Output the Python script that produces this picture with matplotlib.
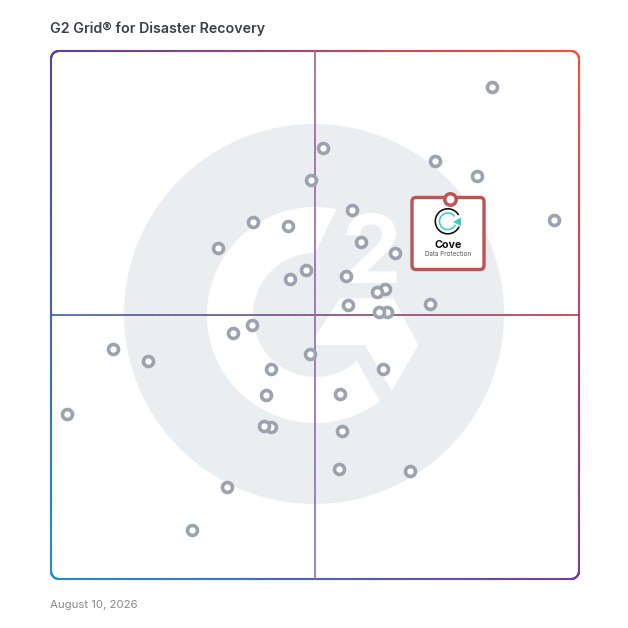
import numpy as np
import matplotlib
matplotlib.use("Agg")
import matplotlib.pyplot as plt
from matplotlib.collections import LineCollection
from matplotlib.patches import Circle, Polygon, FancyBboxPatch, PathPatch
from matplotlib.textpath import TextPath
from matplotlib.font_manager import FontProperties
from matplotlib.transforms import Affine2D

TITLE = "G2 Grid® for Disaster Recovery"
DATE = "August 10, 2026"
FEATURED_NAME = "Cove"
FEATURED_SUB = "Data Protection"

# Positions on the grid, 0-100 on both axes
market_presence = [83.5, 51.6, 72.8, 80.7, 49.2, 95.3, 57.0, 38.2, 44.8, 31.6,
                   58.7, 65.1, 48.3, 45.3, 55.8, 63.2, 61.7, 56.2, 71.8, 63.6,
                   62.2, 38.1, 34.5, 49.1, 11.7, 18.3, 41.7, 62.8, 40.7, 54.7,
                   3.0, 41.7, 40.3, 55.2, 54.5, 68.0, 33.3, 26.7]
satisfaction = [93.2, 81.6, 79.2, 76.3, 75.6, 67.9, 69.8, 67.7, 66.8, 62.7,
                63.9, 61.8, 58.6, 56.8, 57.3, 54.9, 54.3, 51.8, 52.1, 50.6,
                50.6, 48.1, 46.5, 42.6, 43.6, 41.3, 39.8, 39.8, 34.8, 35.0,
                31.2, 28.7, 28.9, 28.0, 20.8, 20.5, 17.4, 9.3]
featured_x = 75.6
featured_y = 71.9

W = 628
fig = plt.figure(figsize=(6.28, 6.28), dpi=100, facecolor="white")

bg = fig.add_axes([0, 0, 1, 1], zorder=0)
bg.set_xlim(0, W); bg.set_ylim(W, 0); bg.axis("off")

ax = fig.add_axes([51/W, 1-579/W, 528/W, 528/W], zorder=2)
ax.set_xlim(0, 100); ax.set_ylim(0, 100); ax.axis("off"); ax.patch.set_alpha(0)

top = fig.add_axes([0, 0, 1, 1], zorder=3)
top.set_xlim(0, W); top.set_ylim(W, 0); top.axis("off"); top.patch.set_alpha(0)

ax2 = fig.add_axes([51/W, 1-579/W, 528/W, 528/W], zorder=4)
ax2.set_xlim(0, 100); ax2.set_ylim(0, 100); ax2.axis("off"); ax2.patch.set_alpha(0)

# watermark
GREY = "#ebeef1"
bg.add_patch(Circle((314, 314), 190, fc=GREY, ec="none", zorder=1))
cx, cy = 315, 315
t1 = np.radians(np.linspace(53.1, 281.4, 200))
t2 = np.radians(np.linspace(270, 47.6, 200))
ring = np.r_[np.c_[cx+108*np.cos(t1), cy+108*np.sin(t1)],
             np.c_[cx+62*np.cos(t2), cy+62*np.sin(t2)]]
bg.add_patch(Polygon(ring, closed=True, fc="white", ec="none", zorder=2))
chev = [(340, 298.3), (393.3, 298.3), (418.3, 345), (391.7, 390.7), (365, 345),
        (315, 345), (315, 336.7)]
bg.add_patch(Polygon(chev, closed=True, fc="white", ec="none", zorder=2))
tp = TextPath((0, 0), "2", size=100, prop=FontProperties(family="Inter", weight="bold"))
b = tp.get_extents()
tr = (Affine2D().translate(-b.x0, -b.y0).scale(50/b.width, -70/b.height)
      .translate(346.7, 283))
bg.add_patch(PathPatch(tp, fc="white", ec="none", zorder=2, transform=tr + bg.transData))

# gradient frame and cross
rgb = lambda c: np.array(matplotlib.colors.to_rgb(c))
TL, TR, BL, BR = [rgb(c) for c in ("#5a3fa8", "#ff4f2e", "#1e8fd0", "#7d3a98")]
L, R, T, B = 51, 579, 51, 579
def grad(p):
    u = np.clip((p[:, 0]-L)/(R-L), 0, 1)[:, None]
    v = np.clip((p[:, 1]-T)/(B-T), 0, 1)[:, None]
    return (1-u)*(1-v)*TL + u*(1-v)*TR + (1-u)*v*BL + u*v*BR
def stroke(a, lw, colors=None):
    seg = np.stack([a[:-1], a[1:]], axis=1)
    mid = seg.mean(axis=1)
    c = grad(mid) if colors is None else colors
    bg.add_collection(LineCollection(seg, colors=c, linewidths=lw*0.72,
                                     capstyle="round", zorder=3))
r = 8
def arc(c, a0, a1):
    t = np.radians(np.linspace(a0, a1, 24))
    return np.c_[c[0]+r*np.cos(t), c[1]+r*np.sin(t)]
def edge(p, q, n=200):
    return np.c_[np.linspace(p[0], q[0], n), np.linspace(p[1], q[1], n)]
frame = np.r_[edge((L+r, T), (R-r, T)), arc((R-r, T+r), -90, 0),
              edge((R, T+r), (R, B-r)), arc((R-r, B-r), 0, 90),
              edge((R-r, B), (L+r, B)), arc((L+r, B-r), 90, 180),
              edge((L, B-r), (L, T+r)), arc((L+r, T+r), 180, 270)]
stroke(frame, 2.1)
MID = 315
f = np.linspace(0, 1, 299)[:, None]
stroke(edge((L, MID), (R, MID), 300), 1.5, (1-f)*rgb("#3d62b0") + f*rgb("#bd3a50"))
stroke(edge((MID, T), (MID, B), 300), 1.5, (1-f)*rgb("#a5609f") + f*rgb("#8872bf"))

# competitors
ax.plot(market_presence, satisfaction, ls="none", marker="o", ms=10.0*0.72,
        mfc="white", mec="#9da2af", mew=3.6*0.72, clip_on=False, zorder=3)

# featured card
RED = "#bd5558"
top.add_patch(FancyBboxPatch((412, 197.5), 72, 72, boxstyle="round,pad=0,rounding_size=4",
                             fc="white", ec=RED, lw=3.4*0.72, zorder=5))
ax2.plot([featured_x], [featured_y], ls="none", marker="o", ms=11.5*0.72, mfc="white",
         mec=RED, mew=3.5*0.72, clip_on=False, zorder=6)

# featured logo
def ring_arc(r0, a0, a1, color, lw):
    t = np.radians(np.linspace(a0, a1, 80))
    top.plot(447.8+r0*np.cos(t), 221.3+r0*np.sin(t), color=color, lw=lw*0.72,
             zorder=7, solid_capstyle="butt")
ring_arc(12.5, 25, 330, "#0c0c0c", 1.6)
ring_arc(8.3, 25, 325, "#35cfc9", 1.6)
top.add_patch(Polygon([(453, 222), (461, 217.5), (461, 226)], closed=True,
                      fc="#35cfc9", ec="none", zorder=7))
top.text(448, 245.5, FEATURED_NAME, ha="center", va="center", fontsize=7.8,
         family="Inter", weight="bold", color="#111111", zorder=7)
top.text(448, 254.5, FEATURED_SUB, ha="center", va="center", fontsize=4.5,
         family="Inter", color="#555555", zorder=7)

# titles
top.text(50, 29, TITLE, ha="left", va="center", fontsize=10.25, family="Inter",
         weight="semibold", color="#3b3f47")
top.text(50, 604.5, DATE, ha="left", va="center", fontsize=8.2, family="Inter",
         color="#85888e")

fig.savefig("out.png", dpi=100, facecolor="white")
